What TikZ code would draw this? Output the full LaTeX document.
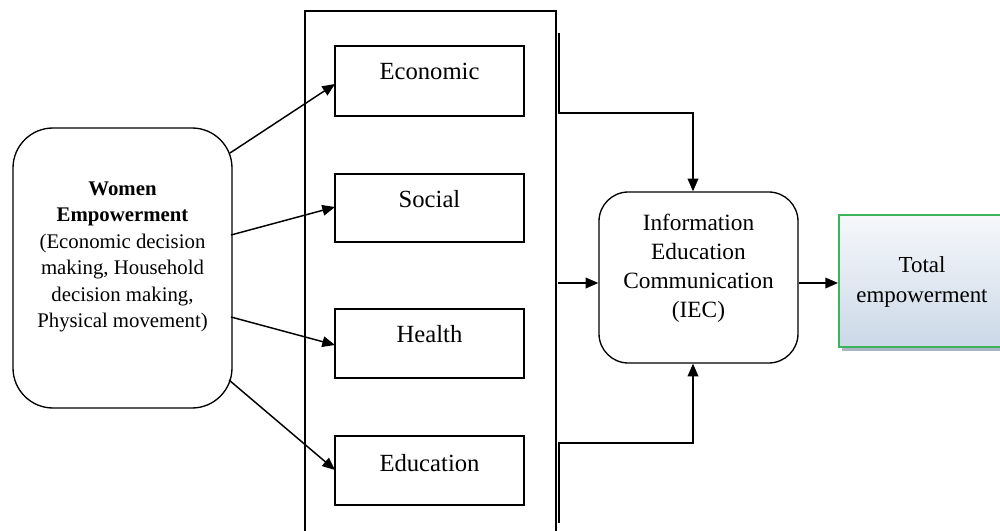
\documentclass[tikz,border=0pt]{standalone}
\usepackage{fontspec}
\setmainfont{Liberation Serif}
\usetikzlibrary{arrows.meta}
\definecolor{tgreen}{HTML}{3DB35C}
\definecolor{ttop}{HTML}{F6F8FB}
\definecolor{tbot}{HTML}{CBD8E7}
\definecolor{tshadow}{HTML}{A9B4C2}
\tikzset{
  arr/.style={line width=1.1pt,-{Triangle[length=9.5pt,width=8pt]}},
  conn/.style={line width=1.1pt},
  sqbox/.style={draw,line width=1.1pt,rectangle,inner sep=0pt},
  rbox/.style={draw,line width=1pt,rounded corners=22pt,inner sep=0pt},
  txt/.style={align=center,inner sep=0pt},
}
\begin{document}
\begin{tikzpicture}[x=0.75pt,y=-0.75pt]
\useasboundingbox (0,0) rectangle (1000,531);
\clip (0,0) rectangle (1000,531);
% container
\node[draw,line width=1.4pt,rectangle,inner sep=0pt,minimum width=251*0.75pt,minimum height=540*0.75pt,anchor=north west] (cont) at (304,10) {};
% inner boxes
\node[sqbox,minimum width=189*0.75pt,minimum height=70*0.75pt] (eco) at (429.5,81) {};
\node[sqbox,minimum width=189*0.75pt,minimum height=68*0.75pt] (soc) at (429.5,208) {};
\node[sqbox,minimum width=189*0.75pt,minimum height=69*0.75pt] (hea) at (429.5,343.5) {};
\node[sqbox,minimum width=189*0.75pt,minimum height=69*0.75pt] (edu) at (429.5,470.5) {};
\node[txt,font=\fontsize{18.5pt}{22pt}\selectfont] (ecot) at (429.5,71) {Economic};
\node[txt,font=\fontsize{18.5pt}{22pt}\selectfont] (soct) at (429.5,199) {Social};
\node[txt,font=\fontsize{18.5pt}{22pt}\selectfont] (heat) at (429.5,334) {Health};
\node[txt,font=\fontsize{18.5pt}{22pt}\selectfont] (edut) at (429.5,463) {Education};
% women empowerment
\node[rbox,rounded corners=30pt,minimum width=219*0.75pt,minimum height=280*0.75pt] (we) at (122.5,268) {};
\node[txt,font=\fontsize{15.6pt}{19.8pt}\selectfont] (wet) at (122.5,257) {\textbf{Women}\\\textbf{Empowerment}\\(Economic decision\\making, Household\\decision making,\\Physical movement)};
% IEC
\node[rbox,minimum width=199*0.75pt,minimum height=171*0.75pt] (iec) at (698.5,277.5) {};
\node[txt,font=\fontsize{17.5pt}{21.7pt}\selectfont] (iect) at (698.5,268) {Information\\Education\\Communication\\(IEC)};
% total empowerment
\fill[tshadow] (842,219) rectangle (1004,351);
\node[draw=tgreen,line width=1.3pt,rectangle,inner sep=0pt,top color=ttop,bottom color=tbot,minimum width=166*0.75pt,minimum height=132*0.75pt,anchor=north west] (tot) at (838,214) {};
\node[txt,font=\fontsize{17.2pt}{23pt}\selectfont] (tott) at (922,282) {Total\\empowerment};
% arrows from WE
\coordinate (w1) at (230,153);
\coordinate (w2) at (231,235);
\coordinate (w3) at (231,317);
\coordinate (w4) at (229,380);
\coordinate (e1) at (335,84);
\coordinate (e2) at (335,207);
\coordinate (e3) at (335,345);
\coordinate (e4) at (335,470);
\draw[arr] (w1) -- (e1);
\draw[arr] (w2) -- (e2);
\draw[arr] (w3) -- (e3);
\draw[arr] (w4) -- (e4);
% right brackets
\coordinate (t0) at (559,33);
\coordinate (b0) at (559,523);
\draw[arr] (t0) |- (693,113) -- (iec.north -| 693,0);
\draw[arr] (b0) |- (693,443) -- (iec.south -| 693,0);
\coordinate (m0) at (558,283);
\draw[arr] (m0) -- (m0 -| iec.west);
\draw[arr] (iec.east |- 0,283) -- (tot.west |- 0,283);
\end{tikzpicture}
\end{document}
